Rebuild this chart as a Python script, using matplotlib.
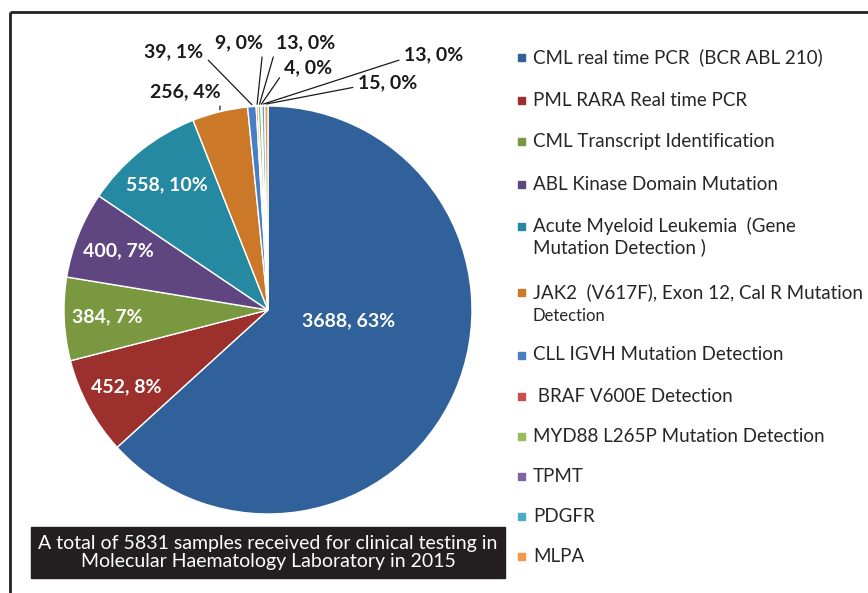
import matplotlib.pyplot as plt
from matplotlib.patches import Rectangle
import numpy as np

# samples received per test, 2015
categories = [
    "CML real time PCR  (BCR ABL 210)",
    "PML RARA Real time PCR",
    "CML Transcript Identification",
    "ABL Kinase Domain Mutation",
    "Acute Myeloid Leukemia  (Gene\nMutation Detection )",
    "JAK2  (V617F), Exon 12, Cal R Mutation\nDetection",
    "CLL IGVH Mutation Detection",
    " BRAF V600E Detection",
    "MYD88 L265P Mutation Detection",
    "TPMT",
    "PDGFR",
    "MLPA",
]
samples = [3688, 452, 384, 400, 558, 256, 39, 9, 13, 4, 13, 15]
caption = ("A total of 5831 samples received for clinical testing in\n"
           "Molecular Haematology Laboratory in 2015")

colors = ["#31619a", "#9b302d", "#7a983f", "#5f4681", "#2689a2", "#cb7828",
          "#4a7ec4", "#c9504c", "#9bbb59", "#8064a2", "#4bacc6", "#f79646"]

W, H = 868, 593
fig = plt.figure(figsize=(W / 100, H / 100), dpi=100)
ax = fig.add_axes([0, 0, 1, 1])

# work in pixel units, y measured up from the bottom
cx, cy, R = 268, H - 310, 204
wedges, _ = ax.pie(samples, colors=colors, startangle=90, counterclock=False,
                   center=(cx, cy), radius=R,
                   wedgeprops=dict(edgecolor="white", linewidth=1.0))
ax.set_xlim(0, W)
ax.set_ylim(0, H)
ax.set_aspect("auto")
ax.axis("off")

total = sum(samples)
labels = [f"{v}, {round(100 * v / total)}%" for v in samples]
mid = [np.deg2rad((w.theta1 + w.theta2) / 2) for w in wedges]

font = ["Lato", "DejaVu Sans"]
lab_size = 14

# labels inside the big slices
ax.text(349, H - 321, labels[0], color="white", fontsize=lab_size,
        fontweight="bold", family=font, ha="center", va="center")
for i in range(1, 5):
    x = cx + 0.79 * R * np.cos(mid[i])
    y = cy + 0.79 * R * np.sin(mid[i])
    ax.text(x, y, labels[i], color="white", fontsize=lab_size,
            fontweight="bold", family=font, ha="center", va="center")

# outside labels with leader lines
outside = {
    5: ((185, 92), (1.0, 0.3)),
    6: ((174, 52), (1.0, 0.3)),
    7: ((239, 43), (1.0, 0.2)),
    8: ((306, 43), (0.0, 0.3)),
    9: ((308, 68), (0.0, 0.3)),
    10: ((434, 55), (0.0, 0.3)),
    11: ((388, 83), (0.0, 0.3)),
}
for i, ((tx, ty), rel) in outside.items():
    px = cx + R * np.cos(mid[i])
    py = cy + R * np.sin(mid[i])
    ax.annotate(labels[i], xy=(px, py + 2), xytext=(tx, H - ty),
                fontsize=lab_size, fontweight="bold", family=font,
                color="#1a1a1a", ha="center", va="center",
                arrowprops=dict(arrowstyle="-", color="#1a1a1a", lw=0.9,
                                relpos=rel, shrinkA=2, shrinkB=0))

# legend
rows = [57, 100, 141, 184, 226, 292, 355, 396, 436, 476, 516, 556]
for i, (name, row) in enumerate(zip(categories, rows)):
    ax.add_patch(Rectangle((517.5, H - row - 3.5), 7, 7, color=colors[i]))
    lines = name.split("\n")
    ax.text(533, H - row, lines[0], fontsize=13.5, family=font,
            color="#262626", ha="left", va="center")
    if len(lines) > 1:
        small = i == 5
        ax.text(533, H - row - (24 if small else 21), lines[1],
                fontsize=12 if small else 13.5, family=font,
                color="#262626", ha="left", va="center")

# caption box
ax.add_patch(Rectangle((31, H - 578), 474, 51, color="#231f20"))
ax.text(268, H - 552.5, caption, color="white", fontsize=14, family=font,
        ha="center", va="center", linespacing=1.05)

# frame lines on top and left
ax.plot([10, W], [H - 12, H - 12], color="#222222", lw=2, solid_capstyle="butt")
ax.plot([10, 10], [0, H - 12], color="#222222", lw=2, solid_capstyle="butt")

fig.savefig("out.png", dpi=100)
